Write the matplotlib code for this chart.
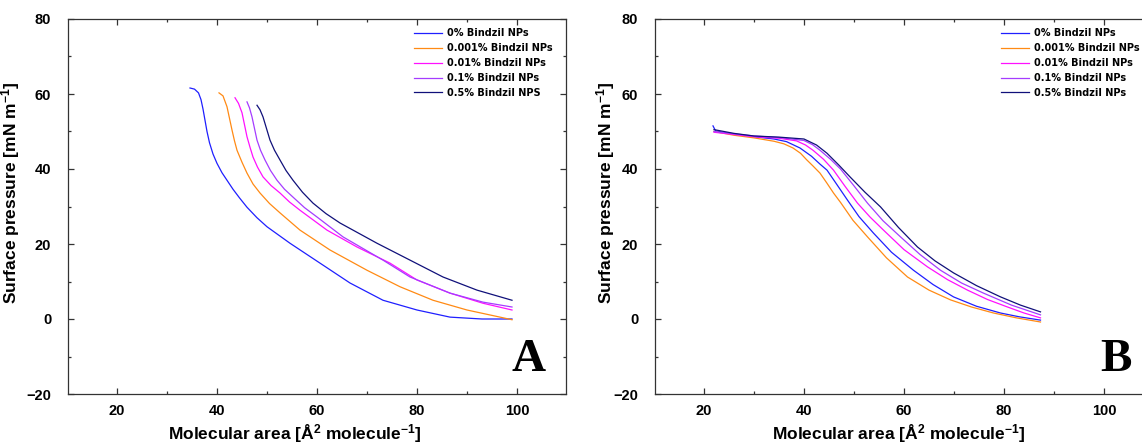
import numpy as np
import matplotlib
matplotlib.use('Agg')
import matplotlib.pyplot as plt
from matplotlib.ticker import MultipleLocator

plt.rcParams['font.family'] = ['Liberation Sans', 'DejaVu Sans']
plt.rcParams['font.weight'] = 'bold'
plt.rcParams['mathtext.fontset'] = 'custom'
plt.rcParams['mathtext.rm'] = 'Liberation Sans:bold'
plt.rcParams['mathtext.bf'] = 'Liberation Sans:bold'
plt.rcParams['mathtext.default'] = 'bf'

#Series labels and colours
labels_A = ['0% Bindzil NPs', '0.001% Bindzil NPs', '0.01% Bindzil NPs',
            '0.1% Bindzil NPs', '0.5% Bindzil NPS']
labels_B = ['0% Bindzil NPs', '0.001% Bindzil NPs', '0.01% Bindzil NPs',
            '0.1% Bindzil NPs', '0.5% Bindzil NPs']
colors = ['#1f1fff', '#ff8a14', '#ff10ff', '#a53cff', '#10107a']

#Panel A isotherms (molecular area, surface pressure)
A_x0 = [34.6, 35.5, 36.3, 36.8, 37.2, 37.6, 38.0, 38.5, 39.2, 40.0, 41.0, 42.0, 43.2, 44.5, 46.0, 48.0,
        50.0, 54.6, 60.6, 66.6, 73.2, 80.0, 86.6, 93.0, 99.0]
A_y0 = [61.6, 61.3, 60.3, 58.5, 56.0, 53.0, 50.0, 47.0, 44.0, 41.5, 39.0, 37.0, 34.6, 32.3, 29.8, 27.0,
        24.6, 20.2, 14.9, 9.6, 5.0, 2.4, 0.5, 0.0, 0.0]
A_x1 = [40.4, 41.2, 42.0, 42.5, 43.0, 43.5, 44.0, 45.0, 46.0, 47.2, 48.6, 50.5, 52.6, 54.6, 56.6,
        62.6, 70.0, 76.6, 83.2, 90.0, 96.6, 99.0]
A_y1 = [60.3, 59.5, 56.6, 53.5, 50.4, 47.5, 45.0, 41.8, 38.9, 36.0, 33.6, 30.8, 28.3, 26.0, 23.7,
        18.4, 13.0, 8.6, 5.0, 2.4, 0.5, -0.2]
A_x2 = [43.6, 44.3, 45.0, 45.5, 46.0, 46.6, 47.2, 48.1, 49.2, 50.8, 52.6, 54.5, 56.6,
        62.0, 68.0, 74.6, 80.0, 86.6, 93.2, 99.0]
A_y2 = [59.0, 57.5, 55.0, 51.8, 48.6, 45.8, 43.2, 40.5, 37.9, 35.6, 33.6, 31.2, 29.0,
        23.7, 19.2, 14.9, 10.4, 6.9, 4.2, 2.4]
A_x3 = [46.0, 46.5, 47.0, 47.5, 48.0, 48.7, 49.6, 50.7, 52.0, 53.5, 55.2, 57.5, 60.0,
        65.2, 73.2, 78.6, 86.6, 93.2, 99.0]
A_y3 = [57.9, 56.3, 53.9, 50.8, 47.7, 45.0, 42.4, 39.6, 37.0, 34.6, 32.5, 29.7, 27.2,
        21.9, 15.7, 11.2, 6.9, 4.5, 3.2]
A_x4 = [48.0, 48.6, 49.2, 49.9, 50.6, 51.5, 52.6, 53.8, 55.2, 57.1, 59.2, 61.8, 64.6,
        72.0, 78.6, 85.2, 92.0, 99.0]
A_y4 = [57.0, 55.8, 53.9, 50.8, 47.7, 45.0, 42.4, 39.6, 37.0, 33.8, 30.9, 28.1, 25.6,
        20.2, 15.7, 11.2, 7.7, 5.0]

#Panel B isotherms
B_x0 = [21.8, 22.3, 24.0, 26.0, 30.0, 34.0, 36.5, 39.2, 41.5, 43.2, 44.6, 46.5, 48.7, 51.0, 53.9,
        57.5, 61.9, 65.8, 69.9, 74.5, 79.3, 83.0, 87.3]
B_y0 = [51.5, 50.2, 49.7, 49.3, 48.6, 48.0, 47.3, 45.6, 43.4, 41.3, 39.7, 36.0, 31.7, 27.3, 22.9,
        17.8, 13.0, 9.2, 5.9, 3.4, 1.6, 0.6, -0.3]
B_x1 = [22.0, 26.0, 30.0, 34.0, 36.0, 37.8, 39.3, 40.5, 41.8, 43.2, 44.6, 45.9, 47.3, 49.8, 52.7,
        56.5, 60.7, 65.0, 69.3, 73.5, 77.9, 82.5, 87.3]
B_y1 = [50.0, 49.0, 48.3, 47.4, 46.7, 45.6, 44.2, 42.5, 40.8, 38.9, 36.2, 33.6, 31.1, 26.3, 21.9,
        16.3, 11.2, 7.7, 5.1, 3.2, 1.6, 0.3, -0.8]
B_x2 = [22.0, 26.0, 30.0, 35.0, 38.5, 40.3, 41.8, 43.9, 45.9, 48.2, 50.7, 53.2, 55.9, 60.0,
        64.7, 68.7, 72.7, 76.7, 80.7, 84.0, 87.3]
B_y2 = [49.8, 49.2, 48.6, 48.2, 47.5, 46.4, 45.0, 42.6, 39.7, 35.4, 30.9, 27.2, 23.7, 18.5,
        13.9, 10.5, 7.7, 5.2, 3.2, 1.6, 0.3]
B_x3 = [22.0, 26.0, 30.0, 35.0, 40.0, 41.7, 43.2, 45.3, 47.3, 50.0, 52.7, 55.8, 59.3, 63.2,
        67.3, 71.5, 75.9, 81.5, 87.3]
B_y3 = [50.0, 49.4, 48.8, 48.4, 47.6, 46.5, 45.0, 42.6, 40.0, 35.5, 30.9, 26.2, 21.9, 17.2,
        13.0, 9.6, 6.9, 3.7, 1.1]
B_x4 = [22.0, 26.0, 30.0, 35.0, 40.0, 42.5, 44.6, 47.0, 49.2, 52.2, 55.3, 58.9, 62.7, 66.2,
        69.9, 74.5, 79.3, 83.3, 87.3]
B_y4 = [50.5, 49.5, 48.8, 48.5, 48.0, 46.4, 44.2, 41.0, 37.9, 33.8, 29.9, 24.4, 19.2, 15.5,
        12.3, 8.9, 5.9, 3.7, 1.9]

panels = [
    ([(A_x0, A_y0), (A_x1, A_y1), (A_x2, A_y2), (A_x3, A_y3), (A_x4, A_y4)], labels_A, 'A', 0.455, -0.092),
    ([(B_x0, B_y0), (B_x1, B_y1), (B_x2, B_y2), (B_x3, B_y3), (B_x4, B_y4)], labels_B, 'B', 0.49, -0.076),
]

fig = plt.figure(figsize=(11.42, 4.48), dpi=100)
ax_left = [68 / 1142, 655 / 1142]

for (series, labels, tag, xlab_x, ylab_x), left in zip(panels, ax_left):
    ax = fig.add_axes([left, 54 / 448, 498 / 1142, 375 / 448])
    for (x, y), lab, c in zip(series, labels, colors):
        ax.plot(x, y, color=c, lw=0.9, label=lab)

    ax.set_xlim(10.2, 109.8)
    ax.set_ylim(-20, 80)
    ax.set_xticks([20, 40, 60, 80, 100])
    ax.set_yticks([-20, 0, 20, 40, 60, 80])
    ax.xaxis.set_minor_locator(MultipleLocator(10))
    ax.yaxis.set_minor_locator(MultipleLocator(10))
    ax.tick_params(which='both', direction='in', top=True, right=True,
                   color='#333333', width=0.9)
    ax.tick_params(which='major', length=4.5, labelsize=10.5)
    ax.tick_params(which='minor', length=2.5)
    ax.tick_params(axis='y', pad=12)
    ax.tick_params(axis='x', pad=7)
    for sp in ax.spines.values():
        sp.set_color('#333333')
        sp.set_linewidth(0.9)

    ax.set_xlabel(r'Molecular area [Å$^{2}$ molecule$^{-1}$]', fontsize=12.5, fontweight='bold')
    ax.xaxis.set_label_coords(xlab_x, -0.075)
    ax.set_ylabel(r'Surface pressure [mN m$^{-1}$]', fontsize=12.5, fontweight='bold')
    ax.yaxis.set_label_coords(ylab_x, 0.536)

    ax.legend(loc='upper left', bbox_to_anchor=(0.695, 0.975), frameon=False,
              handlelength=2.9, handletextpad=0.45,
              labelspacing=0.5, borderpad=0, borderaxespad=0,
              prop={'weight': 'bold', 'size': 7, 'family': 'DejaVu Sans'})

    ax.text(0.925, 0.09, tag, transform=ax.transAxes, ha='center', va='center',
            fontsize=34, fontweight='bold', family='Liberation Serif')

fig.savefig('out.png', dpi=100)
